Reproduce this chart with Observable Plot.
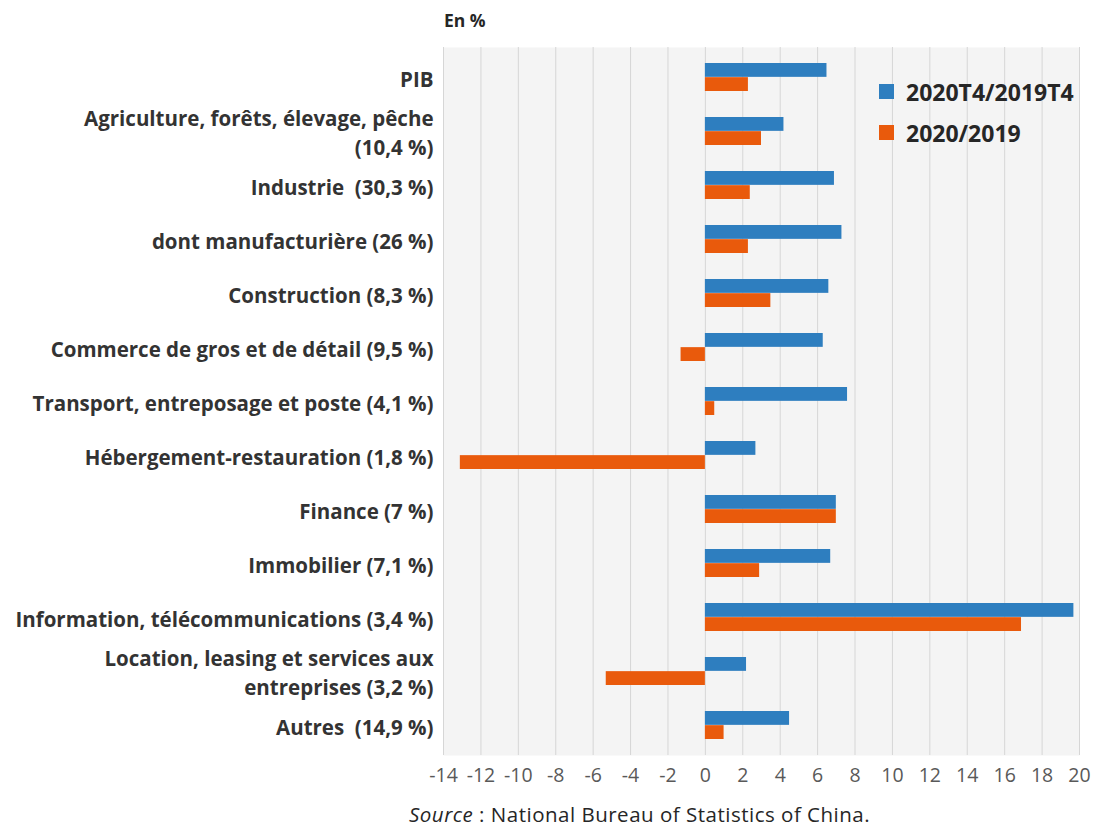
<!DOCTYPE html>
<html>
<head>
<meta charset="utf-8">
<script src="https://cdn.jsdelivr.net/npm/d3@7"></script>
<script src="https://cdn.jsdelivr.net/npm/@observablehq/plot@0.6"></script>
<style>
  html, body { margin: 0; padding: 0; background: #ffffff; }
  #wrap { position: relative; width: 1093px; height: 830px; font-family: "Open Sans", sans-serif; color: #404040; }
  #unit { position: absolute; left: 444px; top: 8px; font-size: 17.5px; font-weight: 700; color: #262626; }
  #chart { position: absolute; left: 0; top: 0; }
  #legend { position: absolute; left: 879px; top: 71px; }
  .item { display: flex; align-items: center; height: 41px; font-size: 23px; font-weight: 700; color: #262626; }
  .sw { width: 15px; height: 15px; margin-right: 12px; }
  #source { position: absolute; left: 409px; top: 804px; font-size: 20.5px; line-height: 20px; letter-spacing: 0.5px; color: #262626; white-space: nowrap; }
</style>
</head>
<body>
<div id="wrap">
  <div id="chart"></div>
  <div id="unit"></div>
  <div id="legend"></div>
  <div id="source"></div>
</div>
<script>
const categories = [
  "PIB",
  "Agriculture, forêts, élevage, pêche\n(10,4 %)",
  "Industrie  (30,3 %)",
  "dont manufacturière (26 %)",
  "Construction (8,3 %)",
  "Commerce de gros et de détail (9,5 %)",
  "Transport, entreposage et poste (4,1 %)",
  "Hébergement-restauration (1,8 %)",
  "Finance (7 %)",
  "Immobilier (7,1 %)",
  "Information, télécommunications (3,4 %)",
  "Location, leasing et services aux\nentreprises (3,2 %)",
  "Autres  (14,9 %)"
];
const q4Values = [6.5, 4.2, 6.9, 7.3, 6.6, 6.3, 7.6, 2.7, 7.0, 6.7, 19.7, 2.2, 4.5];
const annualValues = [2.3, 3.0, 2.4, 2.3, 3.5, -1.3, 0.5, -13.1, 7.0, 2.9, 16.9, -5.3, 1.0];
const seriesNames = ["2020T4/2019T4", "2020/2019"];
const seriesColors = ["#2e7ebf", "#e95a0c"];
const xTicks = [-14, -12, -10, -8, -6, -4, -2, 0, 2, 4, 6, 8, 10, 12, 14, 16, 18, 20];
const unitLabel = "En %";
const sourceLabel = "Source";
const sourceText = " : National Bureau of Statistics of China.";

const rows = [];
categories.forEach((c, i) => {
  rows.push({category: c, series: seriesNames[0], value: q4Values[i]});
  rows.push({category: c, series: seriesNames[1], value: annualValues[i]});
});

const half = 14.15;

const chart = Plot.plot({
  width: 1093,
  height: 800,
  marginLeft: 443,
  marginRight: 14,
  marginTop: 47,
  marginBottom: 45,
  style: {fontFamily: "Open Sans, sans-serif", background: "transparent"},
  x: {domain: [-14, 20], ticks: xTicks, tickFormat: d => String(d), tickSize: 0, tickPadding: 14, label: null},
  y: {domain: categories, paddingInner: 0.48, paddingOuter: 0.24, tickSize: 0, tickPadding: 10, label: null},
  color: {domain: seriesNames, range: seriesColors},
  marks: [
    Plot.frame({fill: "#f4f4f4", stroke: null}),
    Plot.gridX(xTicks, {stroke: "#d6d6d6", strokeOpacity: 1, strokeWidth: 1}),
    Plot.barX(rows.filter(d => d.series === seriesNames[0]), {x: "value", y: "category", fill: "series", insetBottom: half}),
    Plot.barX(rows.filter(d => d.series === seriesNames[1]), {x: "value", y: "category", fill: "series", insetTop: half}),
    Plot.axisX({ticks: xTicks, tickFormat: d => String(d), tickSize: 0, tickPadding: 13, fontSize: 19.5, fill: "#595959", label: null}),
    Plot.axisY({tickSize: 0, tickPadding: 10, fontSize: 20.5, fontWeight: 700, fill: "#333333", label: null, lineHeight: 1.37})
  ]
});
document.getElementById("chart").appendChild(chart);

document.getElementById("unit").textContent = unitLabel;
const legend = document.getElementById("legend");
seriesNames.forEach((s, i) => {
  const item = document.createElement("div");
  item.className = "item";
  const sw = document.createElement("span");
  sw.className = "sw";
  sw.style.background = seriesColors[i];
  const t = document.createElement("span");
  t.textContent = s;
  item.appendChild(sw);
  item.appendChild(t);
  legend.appendChild(item);
});
const src = document.getElementById("source");
const em = document.createElement("i");
em.textContent = sourceLabel;
src.appendChild(em);
src.appendChild(document.createTextNode(sourceText));
</script>
</body>
</html>
